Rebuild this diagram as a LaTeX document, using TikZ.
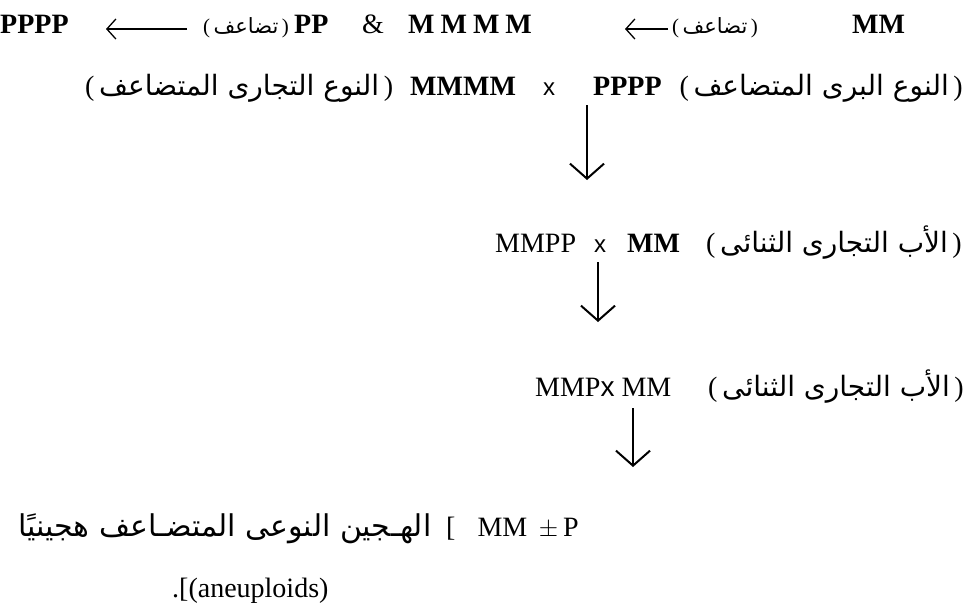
\documentclass[tikz,border=0pt]{standalone}
\usepackage{fontspec}
\setmainfont{Liberation Serif}
\newfontfamily\arabicfont[Script=Arabic]{DejaVu Sans}
\newfontfamily\crossfont{Liberation Sans}
\TeXXeTstate=1
\usetikzlibrary{arrows.meta}
\tikzset{
  gene/.style={anchor=base west, inner sep=0pt, font=\fontsize{28}{32}\selectfont\bfseries},
  genereg/.style={gene, font=\fontsize{28}{32}\selectfont},
  arab/.style={anchor=base west, inner sep=0pt, font=\fontsize{28}{32}\selectfont},
  arabsmall/.style={arab, font=\fontsize{21}{24}\selectfont},
  crossing/.style={anchor=base, inner sep=0pt, font=\fontsize{24}{28}\crossfont},
  harrow/.style={-{Straight Barb[length=9pt, width=20pt]}, line width=1.3pt},
  varrow/.style={-{Straight Barb[length=15pt, width=34pt]}, line width=2pt},
}
\newcommand{\ar}[1]{{\arabicfont\beginR #1\endR}}

\begin{document}
\begin{tikzpicture}[x=1pt, y=-1pt]
  \useasboundingbox (0,0) rectangle (966,606);
  % first line: doubling of the two parents
  \node[gene] (pppp) at (0,33) {PPPP};
  \node[arabsmall] (dbl1) at (203,33) {(\,\ar{تضاعف}\,)};
  \node[gene] (pp) at (294,33) {PP};
  \node[genereg] (amp) at (362,33) {\&};
  \node[gene] (mmmm) at (408,33) {M\hspace{6pt}M\hspace{6pt}M\hspace{6pt}M};
  \node[arabsmall] (dbl2) at (672,33) {(\,\ar{تضاعف}\,)};
  \node[gene] (mm) at (852,33) {MM};
  \coordinate (h1a) at (187,29);
  \coordinate (h1b) at (106,29);
  \coordinate (h2a) at (668,29);
  \coordinate (h2b) at (625,29);
  \draw[harrow] (h1a) -- (h1b);
  \draw[harrow] (h2a) -- (h2b);

  % second line: the cross
  \node[arab] (tetcom) at (85,95) {(\,\ar{النوع التجارى المتضاعف}\,)};
  \node[gene] (mmmmb) at (410,95) {MMMM};
  \node[crossing] (x1) at (549,95) {x};
  \node[gene] (ppppb) at (593,95) {PPPP};
  \node[arab, anchor=base east] (tetwild) at (963,95) {(\,\ar{النوع البرى المتضاعف}\,)};
  \coordinate (v1a) at (587,105);
  \coordinate (v1b) at (587,180);
  \draw[varrow] (v1a) -- (v1b);

  % third line
  \node[genereg] (mmpp) at (495,252) {MMPP};
  \node[crossing] (x2) at (600,252) {x};
  \node[gene] (mmc) at (627,252) {MM};
  \node[arab, anchor=base east] (dip1) at (962,252) {(\,\ar{الأب التجارى الثنائى}\,)};
  \coordinate (v2a) at (598,262);
  \coordinate (v2b) at (598,322);
  \draw[varrow] (v2a) -- (v2b);

  % fourth line
  \node[genereg] (mmp) at (535,396) {MMP{\crossfont x} MM};
  \node[arab, anchor=base east] (dip2) at (964,396) {(\,\ar{الأب التجارى الثنائى}\,)};
  \coordinate (v3a) at (633,408);
  \coordinate (v3b) at (633,467);
  \draw[varrow] (v3a) -- (v3b);

  % fifth and sixth lines: aneuploids
  \node[arab, font=\fontsize{30}{34}\selectfont] (hyb) at (18,536) {\ar{الهـجين النوعى المتضـاعف هجينيًا}};
  \node[genereg] (mmpm) at (446,536) {[\hspace{22pt}MM \,$\pm$\,P};
  \node[genereg] (aneu) at (172,597) {.[(aneuploids)};
\end{tikzpicture}
\end{document}
